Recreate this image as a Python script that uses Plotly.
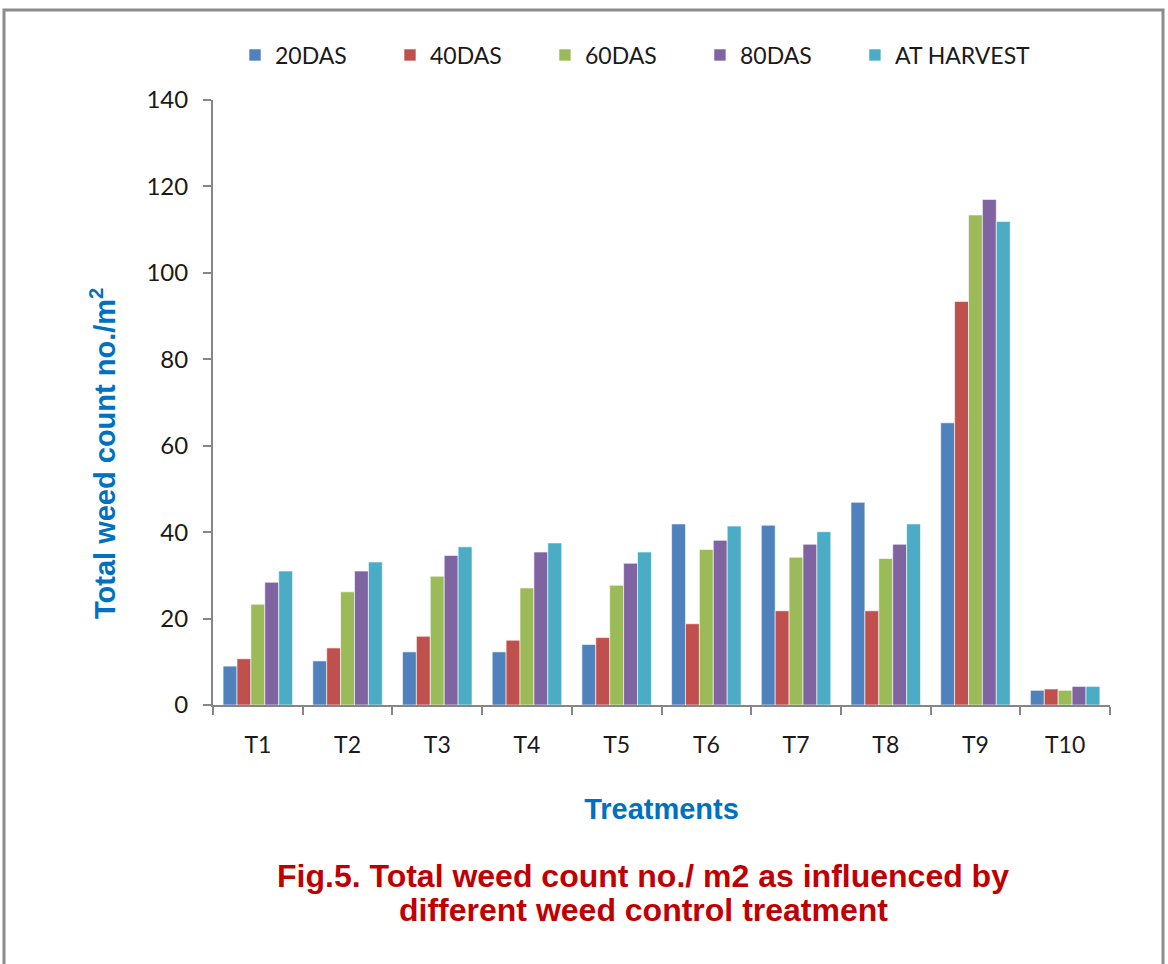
import plotly.graph_objects as go

# Treatments and weed counts (no./m2) at each observation stage
treatments = ["T1", "T2", "T3", "T4", "T5", "T6", "T7", "T8", "T9", "T10"]
das20 = [9.0, 10.2, 12.3, 12.3, 14.0, 41.9, 41.6, 46.9, 65.3, 3.4]
das40 = [10.7, 13.2, 15.9, 15.0, 15.6, 18.8, 21.8, 21.8, 93.4, 3.7]
das60 = [23.3, 26.2, 29.8, 27.1, 27.7, 36.0, 34.2, 33.9, 113.4, 3.4]
das80 = [28.4, 31.0, 34.6, 35.4, 32.8, 38.1, 37.2, 37.2, 117.0, 4.3]
harvest = [31.0, 33.1, 36.6, 37.5, 35.4, 41.4, 40.1, 41.9, 111.9, 4.3]

series_names = ["20DAS", "40DAS", "60DAS", "80DAS", "AT HARVEST"]
series_values = [das20, das40, das60, das80, harvest]
series_colors = ["#4F81BD", "#C0504D", "#9BBB59", "#8064A2", "#4BACC6"]

y_ticks = [0, 20, 40, 60, 80, 100, 120, 140]

W, H = 1168, 964
L, R, T, B = 213, 58, 100, 259
pw, ph = W - L - R, H - T - B


def px_x(x):
    return (x - L) / pw


def px_y(y):
    return (H - B - y) / ph


# legend entries are padded so that they sit on an even pitch
pad = "\u00a0" * 6 + "\u2009"

fig = go.Figure()
for i, (name, vals, col) in enumerate(zip(series_names, series_values, series_colors)):
    label = name + (pad if i < len(series_names) - 1 else "")
    fig.add_trace(go.Bar(
        x=treatments, y=vals, name=label,
        marker=dict(color=col, line=dict(color="rgba(255,255,255,0.6)", width=1)),
    ))

axis_col = "#868686"
label_font = "Lato, Carlito, Calibri, sans-serif"
bold_font = "Liberation Sans, Arial, sans-serif"
fig.update_layout(
    width=W, height=H,
    margin=dict(l=L, r=R, t=T, b=B),
    paper_bgcolor="white", plot_bgcolor="white",
    barmode="group", bargap=0.225, bargroupgap=0,
    font=dict(family=label_font, color="#000000"),
    showlegend=True,
    legend=dict(
        orientation="h", x=px_x(235), xanchor="left", y=px_y(55), yanchor="middle",
        itemwidth=30,
        font=dict(family=label_font, size=23, color="#1a1a1a"), bgcolor="rgba(0,0,0,0)",
    ),
    xaxis=dict(
        showline=True, linecolor=axis_col, linewidth=2,
        ticks="outside", tickcolor=axis_col, ticklen=8, tickwidth=2,
        tickson="boundaries", showgrid=False, ticklabelstandoff=18,
        tickfont=dict(family=label_font, size=23, color="#1a1a1a"),
        title=dict(text="<b>Treatments</b>",
                   font=dict(family=bold_font, size=29, color="#0070C0"),
                   standoff=42),
    ),
    yaxis=dict(
        range=[0, 140], tickvals=y_ticks, showline=True, linecolor=axis_col, linewidth=2,
        ticks="outside", tickcolor=axis_col, ticklen=8, tickwidth=2,
        showgrid=False, zeroline=False, ticklabelstandoff=10,
        tickfont=dict(family=label_font, size=24, color="#1a1a1a"),
    ),
)

# Y axis title, set lower than the axis midpoint
fig.add_annotation(
    text="<b>Total weed count no./m<sup>2</sup></b>",
    xref="paper", yref="paper", x=px_x(103), y=px_y(454),
    xanchor="center", yanchor="middle", textangle=-90, showarrow=False,
    font=dict(family=bold_font, size=29, color="#0070C0"),
)

# Figure caption, two lines
caption_lines = ["Fig.5. Total weed count no./ m2 as influenced by",
                 "different weed control treatment"]
for line, ypix in zip(caption_lines, [876, 910]):
    fig.add_annotation(
        text="<b>" + line + "</b>",
        xref="paper", yref="paper", x=px_x(643), y=px_y(ypix), xanchor="center", yanchor="middle",
        showarrow=False, align="center",
        font=dict(family=bold_font, size=32, color="#C00000"),
    )

# Outer frame of the chart area
fig.add_shape(
    type="rect", xref="paper", yref="paper",
    x0=px_x(4), x1=px_x(1163), y0=px_y(1000), y1=px_y(10),
    line=dict(color="#8C8C8C", width=3), fillcolor="rgba(0,0,0,0)", layer="below",
)

fig.write_html("out.html")
